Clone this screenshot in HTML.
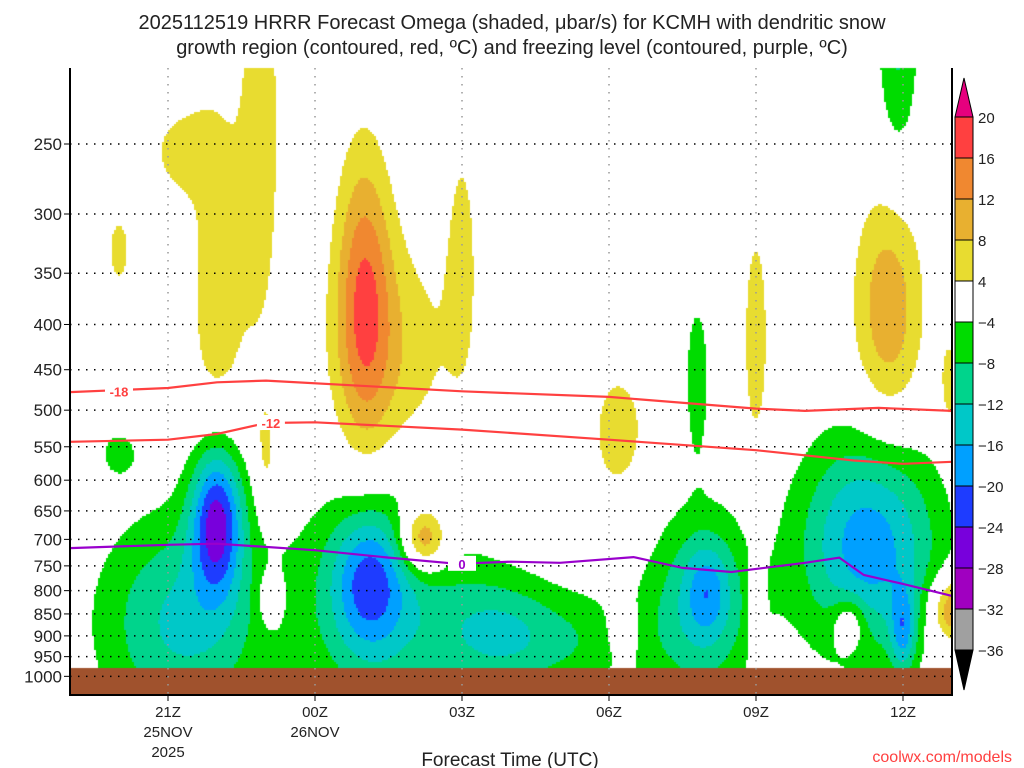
<!DOCTYPE html>
<html><head><meta charset="utf-8"><style>
body{margin:0;background:#fff;width:1024px;height:768px;overflow:hidden;position:relative;font-family:"Liberation Sans",sans-serif}
#c{position:absolute;left:0;top:0}
svg{position:absolute;left:0;top:0}
</style></head><body>
<canvas id="c" width="1024" height="768"></canvas>
<svg id="s" width="1024" height="768"></svg>
<script>
// ---- data ----
const hoursTicks=[2,5,8,11,14,17];
const tickLabels=["21Z","00Z","03Z","06Z","09Z","12Z"];
const dateLabels=[["25NOV","2025"],["26NOV"],[],[],[],[]];
const pLevels=[250,300,350,400,450,500,550,600,650,700,750,800,850,900,950,1000];
// omega blobs: hour, pressure, amplitude, sigma-hours, sigma-lnp
const blobT=[3.0,3.9,2.3,1.0,6.0,6.6,8.0,4.0,7.2,11.2,14.0,16.7,17.95,18.0,
 3.0,2.3,6.1,6.3,8.6,9.8,13.0,12.9,16.3,17.0,12.8,16.9,1.0,15.9,4.1,14.0,11.3];
const blobP=[360,240,255,330,370,430,330,560,700,530,420,385,470,840,
 660,870,780,820,880,910,800,830,710,890,460,185,560,870,820,850,890];
const blobA=[6,6.5,5.5,5.5,14,6.5,5,5,16,5.5,5.5,11,6,14,
 -24,-13,-12,-12,-7,-8,-8,-12,-18.5,-12,-7,-9,-6.5,9,6,7,4];
const blobSX=[0.45,0.3,0.5,0.2,0.4,0.9,0.25,0.15,0.35,0.5,0.25,0.5,0.15,0.3,
 0.38,1.2,0.5,1.1,0.8,1.4,0.3,0.8,1.0,0.18,0.18,0.3,0.25,0.25,0.18,0.11,0.3];
const blobSY=[0.38,0.4,0.08,0.08,0.27,0.22,0.25,0.1,0.06,0.15,0.3,0.22,0.1,0.06,
 0.14,0.2,0.12,0.22,0.12,0.1,0.08,0.18,0.2,0.08,0.15,0.25,0.04,0.05,0.05,0.1,0.06];
// contour lines: hour, pressure
const lineM18H=[0,2,3,4,8,11,14,15,16.5,18], lineM18P=[477,472,465,463,476,483,498,501,497,501];
const lineM12H=[0,2,3,4,5,8,11,14,16,17,18], lineM12P=[543,540,532,517,516,526,540,555,570,575,572];
const line0H=[0,2,3,5,6.5,7.9,9,10,11.5,12.5,13.5,15,15.7,16.2,17,18];
const line0P=[716,710,708,720,734,746,742,744,733,754,762,744,734,768,786,811];
const cbLevels=[20,16,12,8,4,-4,-8,-12,-16,-20,-24,-28,-32,-36];
const cbColors=["#ff4040","#f08830","#e8b030","#e8dc30","#ffffff","#00dc00","#00d48c","#00c8c8","#00a0ff","#1e3cff","#7800dc","#a000c0","#a0a0a0"];
// ---- axes ----
const X0=70,X1=952,PXH=49,YT=68,YB=695,GROUND=668;
const xs=h=>X0+h*PXH;
const ys=p=>144+384*Math.log(p/250);
const ns="http://www.w3.org/2000/svg",S=document.getElementById('s');
function el(t,a,txt){const e=document.createElementNS(ns,t);for(const k in a)e.setAttribute(k,a[k]);if(txt!==undefined)e.textContent=txt;S.appendChild(e);return e;}
function color(v){
 if(v>=20)return "#e6007e"; if(v<-36)return "#000";
 for(let i=0;i<cbLevels.length-1;i++){if(v<cbLevels[i]&&v>=cbLevels[i+1])return cbColors[i];}
 return "#a0a0a0";}
// shading
const ctx=document.getElementById('c').getContext('2d');
const C=2;
for(let y=YT;y<GROUND;y+=C){const lp=Math.log(250)+(y+C/2-144)/384;
 for(let x=X0;x<X1;x+=C){const t=(x+C/2-X0)/PXH;let v=0;
  for(let i=0;i<blobT.length;i++){const dx=(t-blobT[i])/blobSX[i],dy=(lp-Math.log(blobP[i]))/blobSY[i];
   v+=blobA[i]*Math.exp(-0.5*(dx*dx+dy*dy));}
  if(v>=4||v<-4){ctx.fillStyle=color(v);ctx.fillRect(x,y,C,C);}}}
ctx.fillStyle="#a0522d";ctx.fillRect(X0,GROUND,X1-X0,YB-GROUND);
// grid
pLevels.forEach(p=>{const y=ys(p);
 const g=el('line',{x1:X0,x2:X1,y1:y,y2:y,stroke:'#000','stroke-width':1.5,'stroke-dasharray':'1.5 6.5'});
 
 const tk=el('line',{x1:X0-6,x2:X0,y1:y,y2:y,stroke:'#000','stroke-width':1});
 const l=el('text',{x:X0-8,y:y+6,'text-anchor':'end','font-size':17,fill:'#222'},p);
 });
hoursTicks.forEach((h,i)=>{const x=xs(h);
 const g=el('line',{x1:x,x2:x,y1:YT,y2:YB,stroke:'#999','stroke-width':1.5,'stroke-dasharray':'1.5 6.5'});
 
 el('line',{x1:x,x2:x,y1:YB,y2:YB+6,stroke:'#000'});
 const l=el('text',{x:x,y:717,'text-anchor':'middle','font-size':15,fill:'#222'},tickLabels[i]);
 
 dateLabels[i].forEach((d,j)=>{const e=el('text',{x:x,y:737+j*20,'text-anchor':'middle','font-size':15,fill:'#222'},d);
  });});
// contour lines
function line(H,P,col,name){const d=H.map((h,i)=>(i?'L':'M')+xs(h).toFixed(1)+','+ys(P[i]).toFixed(1)).join('');
 const e=el('path',{d:d,fill:'none',stroke:col,'stroke-width':2.2});
 }
line(lineM18H,lineM18P,'#ff4040','contour-minus-18');
line(lineM12H,lineM12P,'#ff4040','contour-minus-12');
line(line0H,line0P,'#9900cc','freezing-level-0');
function clab(h,p,t,col){const x=xs(h),y=ys(p);el('rect',{x:x-14,y:y-8,width:28,height:15,fill:'#fff'});
 const e=el('text',{x:x,y:y+5,'text-anchor':'middle','font-size':13,'font-weight':'bold',fill:col},t);
 }
clab(1.0,476,'-18','#ff4040');clab(4.1,517,'-12','#ff4040');clab(8,746,'0','#9900cc');
// frame
el('path',{d:`M${X0},${YT}V${YB}H${X1}V${YT}`,fill:'none',stroke:'#000','stroke-width':2});
// colorbar
const CBX=955,CBW=18,CB0=117,CBH=41;
cbColors.forEach((c,i)=>{const r=el('rect',{x:CBX,y:CB0+i*CBH,width:CBW,height:CBH,fill:c,stroke:'#000','stroke-width':1});
 });
el('path',{d:`M${CBX},${CB0}L${CBX+CBW/2},78L${CBX+CBW},${CB0}Z`,fill:'#e6007e',stroke:'#000'});
el('path',{d:`M${CBX},${CB0+13*CBH}L${CBX+CBW/2},690L${CBX+CBW},${CB0+13*CBH}Z`,fill:'#000',stroke:'#000'});
cbLevels.forEach((v,i)=>{const t=el('text',{x:978,y:CB0+i*CBH+6,'font-size':15,fill:'#222'},v<0?'\u2212'+(-v):v);
 });
// titles
const t1=el('text',{x:512,y:29,'text-anchor':'middle','font-size':20,fill:'#222'},'2025112519 HRRR Forecast Omega (shaded, \u03bcbar/s) for KCMH with dendritic snow');

const t2=el('text',{x:512,y:54,'text-anchor':'middle','font-size':20,fill:'#222'},'growth region (contoured, red, \u00baC) and freezing level (contoured, purple, \u00baC)');

const xt=el('text',{x:510,y:766,'text-anchor':'middle','font-size':19,fill:'#222'},'Forecast Time (UTC)');

const wm=el('text',{x:1012,y:762,'text-anchor':'end','font-size':16,fill:'#ff4040'},'coolwx.com/models');

</script>
</body></html>
